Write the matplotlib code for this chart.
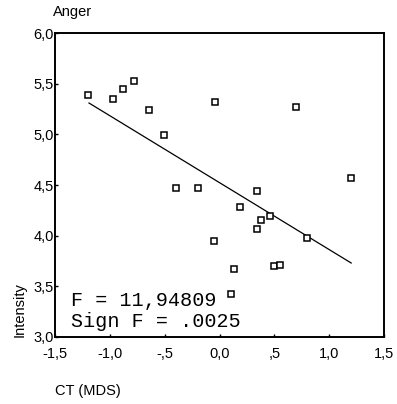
import matplotlib

matplotlib.use("Agg")
import matplotlib.pyplot as plt
from matplotlib.ticker import FixedLocator

# CT (MDS) dimension vs rated anger intensity
ct_mds = [-1.20, -0.97, -0.88, -0.78, -0.64, -0.51, -0.40, -0.20, -0.04,
          0.70, 1.20, 0.34, 0.19, 0.34, 0.38, 0.46, -0.05, 0.13, 0.50,
          0.55, 0.10, 0.80]
intensity = [5.39, 5.35, 5.45, 5.53, 5.24, 4.99, 4.47, 4.47, 5.32,
             5.27, 4.57, 4.44, 4.28, 4.07, 4.15, 4.19, 3.95, 3.67, 3.70,
             3.71, 3.42, 3.98]

# regression line end points
fit_x = [-1.19, 1.20]
fit_y = [5.31, 3.73]

x_ticks = [-1.5, -1.0, -0.5, 0.0, 0.5, 1.0, 1.5]
x_labels = ["-1,5", "-1,0", "-,5", "0,0", ",5", "1,0", "1,5"]
y_ticks = [3.0, 3.5, 4.0, 4.5, 5.0, 5.5, 6.0]
y_labels = ["3,0", "3,5", "4,0", "4,5", "5,0", "5,5", "6,0"]

plt.rcParams["font.family"] = ["Liberation Sans", "DejaVu Sans"]

fig = plt.figure(figsize=(3.97, 4.04), dpi=100)
ax = fig.add_axes([0.1385, 0.166, 0.829, 0.752])

ax.plot(fit_x, fit_y, color="black", lw=0.9)
ax.plot(ct_mds, intensity, ls="none", marker="s", ms=4, mfc="white",
        mec="black", mew=1.1)

ax.set_xlim(-1.5, 1.5)
ax.set_ylim(3.0, 6.0)
ax.xaxis.set_major_locator(FixedLocator(x_ticks))
ax.yaxis.set_major_locator(FixedLocator(y_ticks))
ax.set_xticklabels(x_labels)
ax.set_yticklabels(y_labels)
ax.tick_params(direction="in", length=2, width=1, labelsize=10.5)
ax.tick_params(axis="x", pad=7)
ax.tick_params(axis="y", pad=1)
for s in ax.spines.values():
    s.set_linewidth(1.4)

ax.text(-1.35, 3.31, "F = 11,94809", family="Liberation Mono", fontsize=14.5)
ax.text(-1.35, 3.10, "Sign F = .0025", family="Liberation Mono", fontsize=14.5)

fig.text(53 / 397, 1 - 12 / 404, "Anger", fontsize=10.5, ha="left", va="center")
fig.text(55 / 397, 1 - 391 / 404, "CT (MDS)", fontsize=10.5, ha="left", va="center")
fig.text(20 / 397, 1 - 337 / 404, "Intensity", fontsize=10.5, rotation=90,
         ha="center", va="bottom")

fig.savefig("out.png", dpi=100)
